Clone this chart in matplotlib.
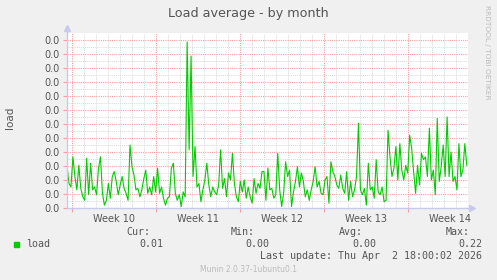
import numpy as np
import matplotlib
matplotlib.use('Agg')
import matplotlib.pyplot as plt

load = [
    0.061, 0.035, 0.030, 0.073, 0.045, 0.026, 0.061, 0.028, 0.016, 0.011,
    0.071, 0.019, 0.064, 0.026, 0.030, 0.019, 0.057, 0.073, 0.021, 0.004,
    0.011, 0.035, 0.014, 0.045, 0.052, 0.038, 0.019, 0.033, 0.045, 0.028,
    0.021, 0.011, 0.090, 0.059,
    0.047, 0.026, 0.028, 0.016, 0.026, 0.042, 0.054, 0.021, 0.030, 0.019,
    0.045, 0.023, 0.057, 0.021, 0.030, 0.014, 0.004, 0.014, 0.016, 0.057,
    0.064, 0.021, 0.011, 0.019, 0.002, 0.023, 0.016, 0.237, 0.083, 0.217,
    0.045, 0.088, 0.030, 0.035,
    0.009, 0.026, 0.040, 0.064, 0.033, 0.016, 0.030, 0.023, 0.019, 0.033,
    0.083, 0.028, 0.042, 0.016, 0.050, 0.040, 0.078, 0.035, 0.016, 0.009,
    0.038, 0.023, 0.040, 0.014, 0.030, 0.016, 0.007, 0.042, 0.021, 0.035,
    0.028, 0.052, 0.052, 0.011,
    0.057, 0.026, 0.028, 0.014, 0.019, 0.078, 0.026, 0.002, 0.021, 0.066,
    0.045, 0.054, 0.002, 0.023, 0.038, 0.059, 0.030, 0.050, 0.038, 0.016,
    0.026, 0.011, 0.026, 0.038, 0.059, 0.030, 0.038, 0.021, 0.019, 0.040,
    0.045, 0.007, 0.066, 0.052,
    0.045, 0.033, 0.028, 0.047, 0.028, 0.021, 0.052, 0.011, 0.038, 0.016,
    0.026, 0.045, 0.121, 0.026, 0.019, 0.028, 0.004, 0.064, 0.026, 0.030,
    0.014, 0.069, 0.023, 0.019, 0.030, 0.009, 0.011, 0.111, 0.073, 0.045,
    0.057, 0.088, 0.040, 0.092,
    0.054, 0.040, 0.061, 0.050, 0.104, 0.085, 0.052, 0.021, 0.061, 0.033,
    0.078, 0.069, 0.073, 0.045, 0.114, 0.040, 0.054, 0.019, 0.128, 0.038,
    0.059, 0.090, 0.045, 0.130, 0.045, 0.080, 0.038, 0.045, 0.026, 0.092,
    0.045, 0.054, 0.092, 0.061,
]
week_labels = ['Week 10', 'Week 11', 'Week 12', 'Week 13', 'Week 14']
y_ticks = [0.00, 0.02, 0.04, 0.06, 0.08, 0.10, 0.12, 0.14, 0.16, 0.18, 0.20, 0.22, 0.24]
y_labels = ['0.0'] * len(y_ticks)   # Munin zeigt ueberall "0.0"
cur_val, min_val, avg_val, max_val = 0.01, 0.00, 0.00, 0.22

# Zeitachse in Tagen
span_days = 33.42
first_week = 0.42
t = np.linspace(0, span_days - 0.1, len(load))

W, H = 497, 280
fig = plt.figure(figsize=(W / 100, H / 100), dpi=100, facecolor='#f0f0f0')
ax = fig.add_axes([67 / W, 72 / H, 401 / W, 175 / H])
ax.set_facecolor('white')

ax.set_xlim(0, span_days)
ax.set_ylim(0, 0.25)

# Gitter
week_ticks = first_week + 7 * np.arange(len(week_labels))
ax.set_xticks(week_ticks)
ax.set_xticks(np.arange(first_week, span_days, 1.0), minor=True)
ax.set_yticks(y_ticks)
ax.set_yticks(np.arange(0, 0.25, 0.01), minor=True)
ax.set_yticklabels(y_labels)
ax.set_xticklabels([])

ax.grid(which='minor', color='#d8d8d8', linestyle=(0, (1, 1)), lw=0.7)
ax.grid(which='major', color='#f4a0a0', linestyle=(0, (1, 1)), lw=0.8)
ax.set_axisbelow(True)

ax.tick_params(axis='y', which='major', length=3, color='#f4a0a0',
               labelsize=7, labelcolor='#555555', pad=2)
ax.tick_params(axis='x', which='major', length=3, color='#f4a0a0')
ax.tick_params(which='minor', length=0)

for s in ['top', 'right']:
    ax.spines[s].set_visible(False)
for s in ['left', 'bottom']:
    ax.spines[s].set_color('#c8c8f0')
    ax.spines[s].set_linewidth(1)

# Pfeile an den Achsen
ax.plot([0], [0.257], marker='^', color='#c8c8f0', ms=5, clip_on=False)
ax.plot([0, 0], [0.25, 0.257], color='#c8c8f0', lw=1, clip_on=False)
ax.plot([span_days + 0.35], [0], marker='>', color='#c8c8f0', ms=5, clip_on=False)

# Wochen-Beschriftungen
for i, lab in enumerate(week_labels):
    ax.text(week_ticks[i] + 3.5, -0.015, lab, ha='center', va='center',
            fontsize=7, color='#555555', transform=ax.transData)

ax.plot(t, load, color='#00cc00', lw=0.8)

# Texte
fig.text(0.5, 1 - 13 / H, 'Load average - by month', ha='center', va='center',
         fontsize=9.2, color='#555555')
fig.text(10 / W, 1 - 118 / H, 'load', rotation=90, ha='center', va='center',
         fontsize=7.5, color='#555555')
fig.text(487 / W, 1 - 5 / H, 'RRDTOOL / TOBI OETIKER', rotation=270,
         ha='center', va='top', fontsize=5.3, color='#bbbbbb')

mono = 'DejaVu Sans Mono'
tc = '#555555'
fs = 7.2
ly = 1 - 232 / H
vy = 1 - 244 / H
fig.text(150 / W, ly, 'Cur:', ha='right', va='center', family=mono, fontsize=fs, color=tc)
fig.text(255 / W, ly, 'Min:', ha='right', va='center', family=mono, fontsize=fs, color=tc)
fig.text(363 / W, ly, 'Avg:', ha='right', va='center', family=mono, fontsize=fs, color=tc)
fig.text(470 / W, ly, 'Max:', ha='right', va='center', family=mono, fontsize=fs, color=tc)

fig.patches.append(plt.Rectangle((14 / W, 1 - 247 / H), 5 / W, 5 / H,
                                 transform=fig.transFigure, color='#00cc00'))
fig.text(26 / W, vy, 'load', ha='left', va='center', family=mono, fontsize=fs, color=tc)
fig.text(163 / W, vy, '%.2f' % cur_val, ha='right', va='center', family=mono, fontsize=fs, color=tc)
fig.text(269 / W, vy, '%.2f' % min_val, ha='right', va='center', family=mono, fontsize=fs, color=tc)
fig.text(376 / W, vy, '%.2f' % avg_val, ha='right', va='center', family=mono, fontsize=fs, color=tc)
fig.text(482 / W, vy, '%.2f' % max_val, ha='right', va='center', family=mono, fontsize=fs, color=tc)
fig.text(482 / W, 1 - 256 / H, 'Last update: Thu Apr  2 18:00:02 2026', ha='right',
         va='center', family=mono, fontsize=fs, color=tc)
fig.text(0.5, 1 - 269 / H, 'Munin 2.0.37-1ubuntu0.1', ha='center', va='center',
         fontsize=5.5, color='#bbbbbb')

fig.savefig('out.png', dpi=100, facecolor=fig.get_facecolor())
